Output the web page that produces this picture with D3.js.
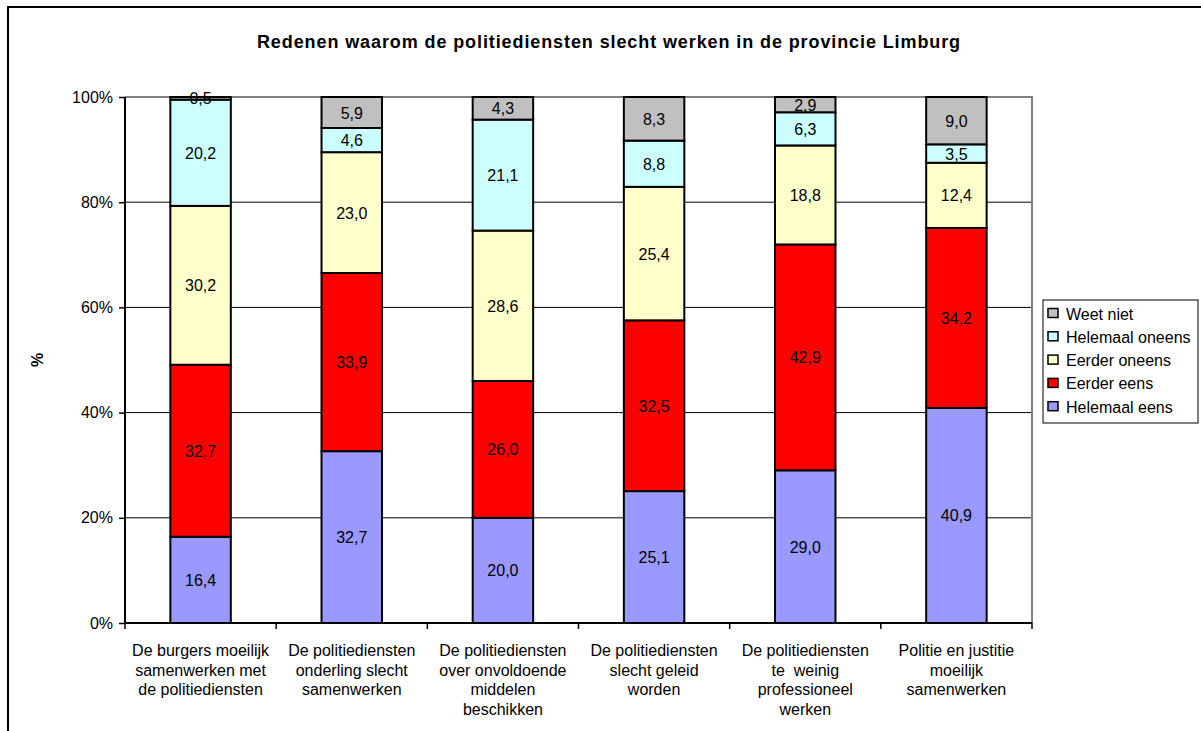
<!DOCTYPE html>
<html><head><meta charset="utf-8">
<script src="https://cdn.jsdelivr.net/npm/d3@7"></script>
<style>body{margin:0;background:#fff}svg{display:block;font-family:"Liberation Sans",Arial,sans-serif}.pre{white-space:pre}</style>
</head><body><svg id="c" width="1201" height="731"></svg>
<script>
const categories = [
  ["De burgers moeilijk","samenwerken met","de politiediensten"],
  ["De politiediensten","onderling slecht","samenwerken"],
  ["De politiediensten","over onvoldoende","middelen","beschikken"],
  ["De politiediensten","slecht geleid","worden"],
  ["De politiediensten","te  weinig","professioneel","werken"],
  ["Politie en justitie","moeilijk","samenwerken"]
];
const seriesNames = ["Helemaal eens","Eerder eens","Eerder oneens","Helemaal oneens","Weet niet"];
const helemaalEens   = [16.4, 32.7, 20.0, 25.1, 29.0, 40.9];
const eerderEens     = [32.7, 33.9, 26.0, 32.5, 42.9, 34.2];
const eerderOneens   = [30.2, 23.0, 28.6, 25.4, 18.8, 12.4];
const helemaalOneens = [20.2, 4.6, 21.1, 8.8, 6.3, 3.5];
const weetNiet       = [0.5, 5.9, 4.3, 8.3, 2.9, 9.0];
const yTicks = [0, 20, 40, 60, 80, 100];
const colors = ["#9999FF","#FF0000","#FFFFCC","#CCFFFF","#C0C0C0"];
const title = "Redenen waarom de politiediensten slecht werken in de provincie Limburg";

const values = [helemaalEens, eerderEens, eerderOneens, helemaalOneens, weetNiet];
const FONT = "'Liberation Sans',Arial,sans-serif";
const svg = d3.select("#c");
const L = 125, R = 1032, T = 97, B = 623;

svg.append("rect").attr("x",8).attr("y",7).attr("width",1300).attr("height",800)
  .attr("fill","none").attr("stroke","#000").attr("stroke-width",2);

svg.append("text").attr("x",609).attr("y",48).attr("text-anchor","middle")
  .attr("font-weight","bold").attr("font-size","18px").attr("letter-spacing","0.9px").text(title);

const x = d3.scaleBand().domain(d3.range(categories.length)).range([L,R]).paddingInner(0.6).paddingOuter(0.3);
const y = d3.scaleLinear().domain([0,100]).range([B,T]);

svg.append("g").selectAll("line").data(yTicks.filter(t=>t>0 && t<100)).join("line")
  .attr("x1",L).attr("x2",R).attr("y1",d=>y(d)).attr("y2",d=>y(d)).attr("stroke","#000").attr("stroke-width",1);
svg.append("path").attr("d",`M${L},${T}H${R}V${B}`).attr("fill","none").attr("stroke","#808080").attr("stroke-width",2);

const rows = categories.map((c,i)=>{const o={}; seriesNames.forEach((s,k)=>o[s]=values[k][i]); return o;});
const stack = d3.stack().keys(seriesNames).offset(d3.stackOffsetExpand);
const st = stack(rows);
const g = svg.append("g");
st.forEach((layer,k)=>{
  g.append("g").selectAll("rect").data(layer).join("rect")
    .attr("x",(d,i)=>x(i)).attr("width",x.bandwidth())
    .attr("y",d=>y(d[1]*100)).attr("height",d=>y(d[0]*100)-y(d[1]*100))
    .attr("fill",colors[k]).attr("stroke","#000").attr("stroke-width",2);
});
st.forEach((layer,k)=>{
  g.append("g").selectAll("text").data(layer).join("text")
    .attr("x",(d,i)=>x(i)+x.bandwidth()/2)
    .attr("y",d=>(y(d[1]*100)+y(d[0]*100))/2+6)
    .attr("text-anchor","middle").attr("font-size","16px").attr("fill","#000")
    .text((d,i)=>d3.format(".1f")(values[k][i]).replace(".",","));
});

const yAxis = d3.axisLeft(y).tickValues(yTicks).tickFormat(d=>d+"%").tickSize(6).tickPadding(6);
const ya = svg.append("g").attr("transform",`translate(${L},0)`).call(yAxis);
ya.select(".domain").attr("stroke","#000").attr("stroke-width",2).attr("d",`M0,${T}V${B}`);
ya.selectAll("line").attr("stroke","#000").attr("stroke-width",1.5);
ya.selectAll("text").attr("font-size","16px").attr("font-family",FONT).attr("fill","#000");

svg.append("line").attr("x1",L).attr("x2",R).attr("y1",B).attr("y2",B).attr("stroke","#000").attr("stroke-width",2);
const step = (R-L)/categories.length;
svg.append("g").selectAll("line").data(d3.range(categories.length+1)).join("line")
  .attr("x1",i=>L+i*step).attr("x2",i=>L+i*step).attr("y1",B).attr("y2",B+6).attr("stroke","#000").attr("stroke-width",1.5);

const cl = svg.append("g").selectAll("text").data(categories).join("text")
  .attr("class","pre")
  .attr("x",(d,i)=>x(i)+x.bandwidth()/2).attr("y",656)
  .attr("text-anchor","middle").attr("font-size","16px");
cl.selectAll("tspan").data(d=>d).join("tspan")
  .attr("x",function(){return this.parentNode.getAttribute("x");})
  .attr("dy",(d,j)=>j===0?0:19.5).text(d=>d);

svg.append("text").attr("transform","translate(43,360) rotate(-90)").attr("text-anchor","middle")
  .attr("font-weight","bold").attr("font-size","16px").text("%");

const lg = svg.append("g");
lg.append("rect").attr("x",1043).attr("y",300).attr("width",155).attr("height",123).attr("fill","#fff").attr("stroke","#000").attr("stroke-width",1);
const legOrder = seriesNames.map((s,k)=>k).reverse();
legOrder.forEach((k,j)=>{
  const yy = 313.5 + j*23.3;
  lg.append("rect").attr("x",1048).attr("y",yy-5).attr("width",10).attr("height",9).attr("fill",colors[k]).attr("stroke","#000").attr("stroke-width",1.5);
  lg.append("text").attr("x",1066).attr("y",yy+6).attr("font-size","16px").text(seriesNames[k]);
});
</script></body></html>
